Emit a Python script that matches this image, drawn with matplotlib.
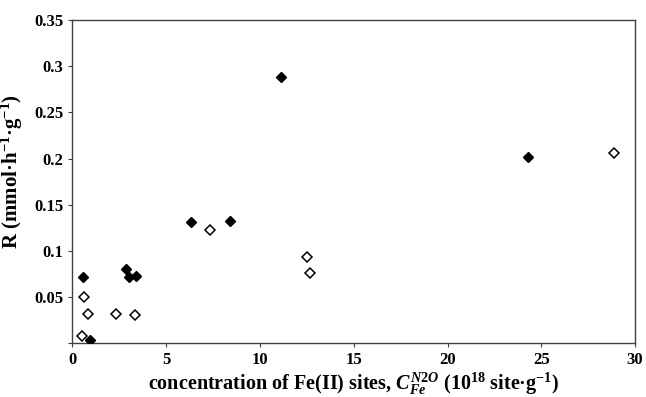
import numpy as np
import matplotlib
matplotlib.use("Agg")
from matplotlib import pyplot as plt

plt.rcParams['font.family'] = 'Liberation Serif'
plt.rcParams['font.weight'] = 'bold'
plt.rcParams['mathtext.fontset'] = 'custom'
plt.rcParams['mathtext.rm'] = 'Liberation Serif:bold'
plt.rcParams['mathtext.it'] = 'Liberation Serif:italic:bold'
plt.rcParams['mathtext.bf'] = 'Liberation Serif:bold'

# filled diamonds
x_filled = [0.54, 0.93, 2.84, 3.01, 3.39, 6.32, 8.40, 11.12, 24.3]
y_filled = [0.072, 0.0036, 0.080, 0.072, 0.0725, 0.1316, 0.1327, 0.288, 0.202]

# open diamonds
x_open = [0.49, 0.61, 0.83, 2.32, 3.35, 7.32, 12.51, 12.68, 28.86]
y_open = [0.0079, 0.050, 0.0314, 0.032, 0.031, 0.1227, 0.0938, 0.0758, 0.2057]

xticks = [0, 5, 10, 15, 20, 25, 30]
yticks = [0, 0.05, 0.1, 0.15, 0.2, 0.25, 0.3, 0.35]
ytick_labels = ['', '0.05', '0.1', '0.15', '0.2', '0.25', '0.3', '0.35']

fig = plt.figure(figsize=(6.46, 3.97), dpi=100)
ax = fig.add_axes([0.1122, 0.1353, 0.983 - 0.1122, 0.9496 - 0.1353])

ax.plot(x_open, y_open, linestyle='none', marker='D', markersize=5.6,
        markerfacecolor='white', markeredgecolor='black', markeredgewidth=1.1, zorder=3)
ax.plot(x_filled, y_filled, linestyle='none', marker='D', markersize=5.3,
        markerfacecolor='black', markeredgecolor='black', zorder=4)

ax.set_xlim(0, 30)
ax.set_ylim(0, 0.35)
ax.set_xticks(xticks)
ax.set_xticklabels([str(t) for t in xticks])
ax.set_yticks(yticks)
ax.set_yticklabels(ytick_labels)
ax.tick_params(direction='out', length=3, width=0.8, color='#404040', labelsize=12)

for s in ax.spines.values():
    s.set_color('#404040')
    s.set_linewidth(1.0)

ax.set_xlabel(r"concentration of Fe(II) sites, $\mathit{C_{Fe}^{N2O}}$ (10$^{18}$ site·g$^{-1}$)",
              fontsize=14.5, fontweight='bold')
ax.set_ylabel(r"R (mmol·h$^{-1}$·g$^{-1}$)", fontsize=15, fontweight='bold')
ax.xaxis.set_label_coords(0.5, -0.085)
ax.yaxis.set_label_coords(-0.085, 0.53)

fig.savefig("out.png", dpi=100)
